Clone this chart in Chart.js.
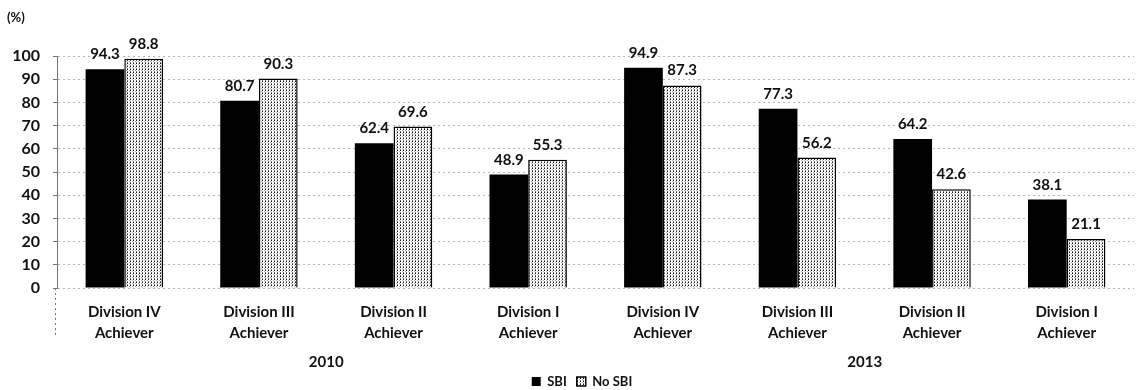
<!DOCTYPE html>
<html>
<head>
<meta charset="utf-8">
<script src="https://cdn.jsdelivr.net/npm/chart.js@4.4.1/dist/chart.umd.min.js"></script>
<style>
  html, body { margin: 0; padding: 0; background: #fff; }
  #wrap { width: 1147px; height: 390px; position: relative; }
</style>
</head>
<body>
<div id="wrap"><canvas id="c" width="1147" height="390"></canvas></div>
<script>
// Achievement rates by division, with and without SBI, 2010 vs 2013
const categories = [
  ['Division IV', 'Achiever'], ['Division III', 'Achiever'], ['Division II', 'Achiever'], ['Division I', 'Achiever'],
  ['Division IV', 'Achiever'], ['Division III', 'Achiever'], ['Division II', 'Achiever'], ['Division I', 'Achiever']
];
const years = ['2010', '2013'];
const sbi = [94.3, 80.7, 62.4, 48.9, 94.9, 77.3, 64.2, 38.1];
const noSbi = [98.8, 90.3, 69.6, 55.3, 87.3, 56.2, 42.6, 21.1];
const yTicks = [0, 10, 20, 30, 40, 50, 60, 70, 80, 90, 100];

const FONT = 'Lato, "Open Sans", sans-serif';

// dotted fill for the "No SBI" bars
function dotPattern() {
  const t = document.createElement('canvas');
  t.width = 3; t.height = 3;
  const g = t.getContext('2d');
  g.fillStyle = '#fff'; g.fillRect(0, 0, 3, 3);
  g.fillStyle = '#111';
  g.fillRect(1, 0, 1, 1);
  g.fillStyle = '#777';
  g.fillRect(1, 2, 1, 1);
  g.fillStyle = '#aaa';
  g.fillRect(0, 1, 1, 1);
  return g.createPattern(t, 'repeat');
}
const ctx0 = document.getElementById('c').getContext('2d');
const dots = dotPattern();

// value labels above each bar, year labels under the groups, "(%)" unit
const annotate = {
  id: 'annotate',
  afterLayout(chart) {
    // legend sits a little right of centre
    const lg = chart.legend;
    lg.left += 15; lg.right += 15;
  },
  afterDatasetsDraw(chart) {
    const ctx = chart.ctx;
    ctx.save();
    ctx.fillStyle = '#111';
    ctx.font = 'bold 15px ' + FONT;
    ctx.textAlign = 'center';
    ctx.textBaseline = 'alphabetic';
    chart.data.datasets.forEach((ds, di) => {
      chart.getDatasetMeta(di).data.forEach((bar, i) => {
        ctx.fillText(ds.data[i].toFixed(1), bar.x, bar.y - 10);
      });
    });
    ctx.restore();
  },
  afterDraw(chart) {
    const ctx = chart.ctx;
    const x = chart.scales.x;
    const area = chart.chartArea;
    ctx.save();
    ctx.fillStyle = '#111';
    ctx.font = 'bold 15px ' + FONT;
    ctx.textAlign = 'center';
    ctx.textBaseline = 'middle';
    const per = categories.length / years.length;
    years.forEach((y, k) => {
      const a = x.getPixelForValue(k * per);
      const b = x.getPixelForValue(k * per + per - 1);
      ctx.fillText(y, (a + b) / 2, 362);
    });
    ctx.textAlign = 'left';
    ctx.font = 'bold 13px ' + FONT;
    ctx.fillText('(%)', 7, 18);
    // axis line runs on into the label band
    ctx.strokeStyle = '#777';
    ctx.setLineDash([2, 3]);
    ctx.lineWidth = 1;
    ctx.beginPath();
    ctx.moveTo(area.left - 1.5, area.bottom);
    ctx.lineTo(area.left - 1.5, 336);
    ctx.stroke();
    ctx.restore();
  }
};

new Chart(ctx0, {
  type: 'bar',
  data: {
    labels: categories,
    datasets: [
      { label: 'SBI', data: sbi, backgroundColor: '#000', borderWidth: 0 },
      { label: 'No SBI', data: noSbi, backgroundColor: dots, borderColor: '#000', borderWidth: 1.5 }
    ]
  },
  options: {
    responsive: false,
    animation: false,
    devicePixelRatio: 1,
    layout: { padding: { top: 56, right: 13, left: 0, bottom: -8 } },
    datasets: { bar: { categoryPercentage: 0.575, barPercentage: 1.0 } },
    scales: {
      x: {
        grid: { display: false, drawTicks: false },
        border: { display: false },
        ticks: { color: '#111', font: { family: FONT, size: 15, weight: 'bold', lineHeight: 1.4 }, padding: 14, maxRotation: 0, autoSkip: false },
        afterFit(s) { s.height = 77; }
      },
      y: {
        min: 0, max: 100,
        afterBuildTicks(s) { s.ticks = yTicks.map(v => ({ value: v })); },
        grid: { color: '#b5b5b5', lineWidth: 1, borderDash: [2, 6], tickLength: 4, tickColor: '#777', tickBorderDash: [] },
        border: { display: true, color: '#777', dash: [2, 3] },
        ticks: { color: '#111', font: { family: FONT, size: 16, weight: 'bold' }, padding: 13 },
        afterFit(s) { s.width = 57; }
      }
    },
    plugins: {
      legend: {
        position: 'bottom',
        labels: {
          color: '#111', font: { family: FONT, size: 13, weight: 'bold' },
          boxWidth: 9, boxHeight: 9, padding: 10
        }
      },
      tooltip: { enabled: false }
    }
  },
  plugins: [annotate]
});
</script>
</body>
</html>
